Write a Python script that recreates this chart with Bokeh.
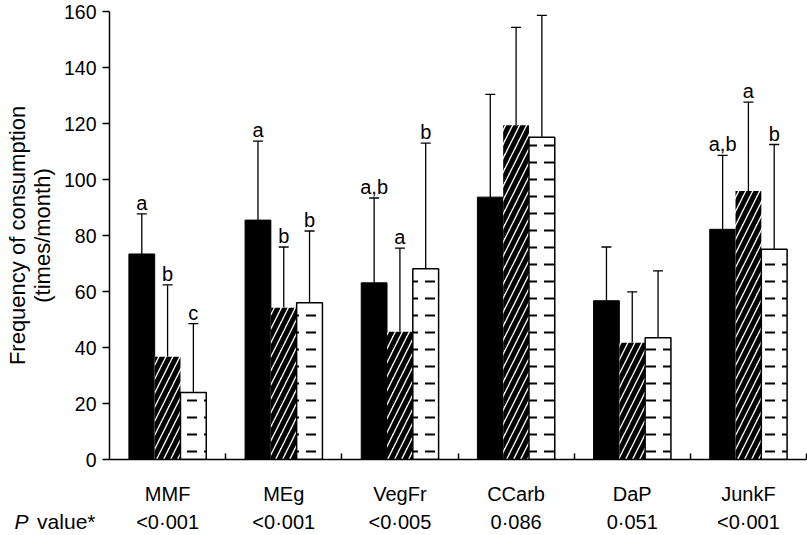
from bokeh.plotting import figure
from bokeh.layouts import column
from bokeh.models import ColumnDataSource, Range1d, FixedTicker, Whisker, TeeHead, LinearAxis
from bokeh.core.properties import value
from bokeh.embed import file_html
from bokeh.resources import INLINE

categories = ["MMF", "MEg", "VegFr", "CCarb", "DaP", "JunkF"]
p_values = ["<0·001", "<0·001", "<0·005", "0·086", "0·051", "<0·001"]

black_mean = [73.4, 85.5, 63.1, 93.7, 56.7, 82.2]
black_sd = [14.3, 28.2, 30.3, 36.7, 19.2, 26.4]
hatch_mean = [36.7, 54.2, 45.6, 119.4, 41.7, 95.9]
hatch_sd = [25.7, 21.7, 29.9, 34.9, 18.2, 31.7]
dash_mean = [23.9, 56.0, 68.1, 115.1, 43.5, 75.1]
dash_sd = [24.6, 25.6, 44.9, 43.5, 23.9, 37.4]

black_letters = ["a", "a", "a,b", "", "", "a,b"]
hatch_letters = ["b", "b", "a", "", "", "a"]
dash_letters = ["c", "b", "b", "", "", "b"]

y_ticks = [0, 20, 40, 60, 80, 100, 120, 140, 160]

FONT = "Liberation Sans"
n = len(categories)
centers = [i + 0.5 for i in range(n)]
bounds = [i for i in range(1, n + 1)]
bw = 0.222

W = 807
BL, BR = 109, 1
p = figure(width=W, height=507, x_range=Range1d(0, n), y_range=Range1d(0, 160),
           output_backend="svg", toolbar_location=None,
           min_border_left=BL, min_border_right=BR, min_border_top=11, min_border_bottom=47)
p.outline_line_color = None
p.grid.visible = False

series = [
    (black_mean, black_sd, black_letters, -bw, dict(fill_color="black", line_color="black", line_width=1)),
    (hatch_mean, hatch_sd, hatch_letters, 0.0, dict(fill_color="white", line_color=None, hatch_pattern="/",
                                                   hatch_color="black", hatch_scale=14, hatch_weight=5)),
    (dash_mean, dash_sd, dash_letters, bw, dict(fill_color="white", line_color="black", line_width=1.5,
                                                hatch_pattern='"', hatch_color="black", hatch_scale=17,
                                                hatch_weight=2)),
]

for mean, sd, letters, off, style in series:
    xs = [c + off for c in centers]
    tops = [m + s for m, s in zip(mean, sd)]
    src = ColumnDataSource(dict(x=xs, top=mean, upper=tops, lab=letters))
    p.vbar(x="x", top="top", bottom=0, width=bw, source=src, **style)
    w = Whisker(base="x", lower="top", upper="upper", source=src, line_width=1.3, line_color="black",
                upper_head=TeeHead(size=10, line_width=1.3, line_color="black"), lower_head=None)
    p.add_layout(w)
    p.text(x="x", y="upper", text="lab", source=src, text_align="center", text_baseline="alphabetic",
           y_offset=-11, text_font=value(FONT), text_font_size="20px", text_color="black")

# axes
yax = p.yaxis[0]
yax.ticker = FixedTicker(ticks=y_ticks)
yax.minor_tick_line_color = None
yax.major_tick_in = 0
yax.major_tick_out = 7
yax.major_label_standoff = 6
yax.major_label_text_font = FONT
yax.major_label_text_font_size = "19.5px"
yax.major_label_text_color = "black"
yax.axis_line_width = 1.5
yax.major_tick_line_width = 1.5
yax.axis_label = "Frequency of consumption\n(times/month)"
yax.axis_label_text_font = FONT
yax.axis_label_text_font_size = "22px"
yax.axis_label_text_font_style = "normal"
yax.axis_label_text_line_height = 1.0
yax.axis_label_text_color = "black"
yax.axis_label_standoff = 6

xax = p.xaxis[0]
xax.ticker = FixedTicker(ticks=centers, minor_ticks=bounds)
xax.major_label_overrides = {c: name for c, name in zip(centers, categories)}
xax.major_tick_in = 0
xax.major_tick_out = 0
xax.minor_tick_in = 6
xax.minor_tick_out = 0
xax.minor_tick_line_width = 1.5
xax.axis_line_width = 1.5
xax.major_label_standoff = 23
xax.major_label_text_font = FONT
xax.major_label_text_font_size = "20px"
xax.major_label_text_color = "black"

# P value row: a strip below the chart with the same x scale
p2 = figure(width=W, height=28, x_range=p.x_range, y_range=Range1d(0, 1),
            output_backend="svg", toolbar_location=None,
            min_border_left=BL, min_border_right=BR, min_border_top=0, min_border_bottom=0,
            x_axis_location=None, y_axis_location=None)
p2.outline_line_color = None
p2.grid.visible = False
ty = 0.5
p2.text(x=centers, y=[ty] * n, text=p_values, text_align="center", text_baseline="middle",
        text_font=value(FONT), text_font_size="20px", text_color="black")


def row_axis(label, style, standoff):
    ax = LinearAxis(ticker=FixedTicker(ticks=[ty]), major_label_overrides={ty: label},
                    axis_line_color=None, major_tick_line_color=None, minor_tick_line_color=None,
                    major_tick_in=0, major_tick_out=0, major_label_standoff=standoff,
                    major_label_text_font=FONT, major_label_text_font_size="21px",
                    major_label_text_font_style=style, major_label_text_color="black")
    p2.add_layout(ax, "left")


row_axis("value*", "normal", 14)
row_axis("P", "italic", 6)

layout = column(p, p2, spacing=0)
open("out.html", "w").write(file_html(layout, INLINE))
